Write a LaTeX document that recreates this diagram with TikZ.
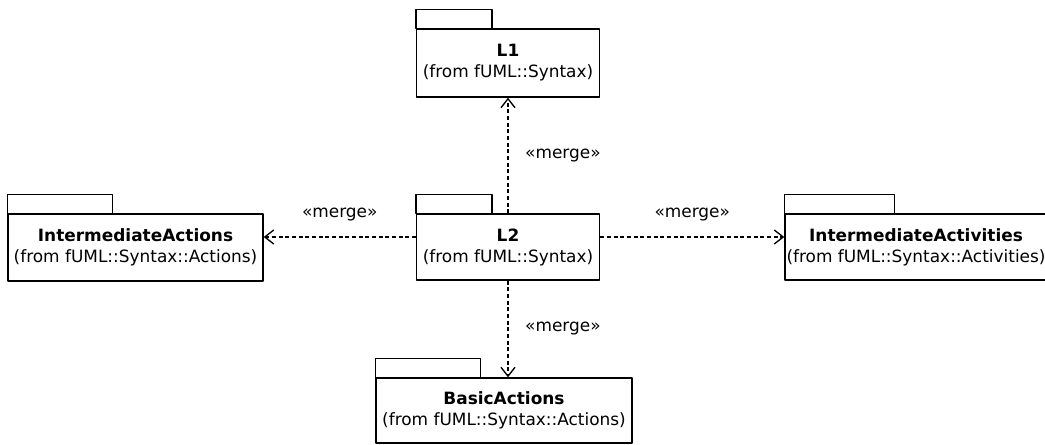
\documentclass[tikz,border=0pt]{standalone}
\usepackage{fontspec}
\setmainfont{DejaVu Sans}
\usetikzlibrary{arrows.meta,positioning}
\newcommand{\pkgfont}{\fontsize{12.7}{15.75}\selectfont}
\tikzset{
  pkg/.style={draw,line width=1pt,align=center,inner sep=0pt,font=\pkgfont},
  tab/.style={draw,line width=1pt},
  merge/.style={-{Straight Barb[length=6.75pt,width=10.5pt,line width=1pt]},line width=1.1pt,dash pattern=on 3pt off 2pt},
  lbl/.style={font=\pkgfont}
}
\begin{document}
\begin{tikzpicture}[x=0.75pt,y=-0.75pt,line join=round]
\def\px{0.75pt}
\useasboundingbox (0,0) rectangle (1045,445);
% packages
\node[pkg,minimum width=183*\px,minimum height=68*\px] (L1) at (508,63) {\textbf{L1}\\(from fUML::Syntax)};
\node[pkg,minimum width=183*\px,minimum height=66*\px] (L2) at (508,247) {\textbf{L2}\\(from fUML::Syntax)};
\node[pkg,minimum width=255*\px,minimum height=67*\px] (IA) at (135.5,247.5) {\textbf{IntermediateActions}\\(from fUML::Syntax::Actions)};
\node[pkg,minimum width=262*\px,minimum height=66*\px] (IAct) at (916,247) {\textbf{IntermediateActivities}\\(from fUML::Syntax::Activities)};
\node[pkg,minimum width=256*\px,minimum height=65*\px] (BA) at (504,410.5) {\textbf{BasicActions}\\(from fUML::Syntax::Actions)};
\foreach \n/\w in {L1/76,L2/76,IA/105,IAct/110,BA/105}
  \draw[tab] (\n.north west) rectangle ++(\w,-19);
% merges
\draw[merge] (L2) -- (L1) node[midway,right=9pt,lbl]{«merge»};
\draw[merge] ([yshift=7.5pt]L2.west) -- ([yshift=7.5pt]L2.west -| IA.east) node[midway,yshift=16.5pt,lbl]{«merge»};
\draw[merge] ([yshift=7.5pt]L2.east) -- ([yshift=7.5pt]L2.east -| IAct.west) node[midway,yshift=16.5pt,lbl]{«merge»};
\draw[merge] (L2.south) -- (L2.south |- BA.north) node[midway,right=9pt,lbl]{«merge»};
\end{tikzpicture}
\end{document}
